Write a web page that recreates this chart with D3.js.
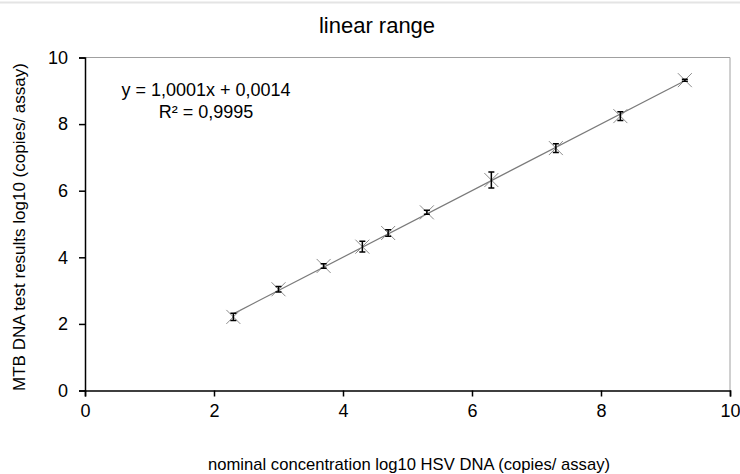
<!DOCTYPE html>
<html>
<head>
<meta charset="utf-8">
<script src="https://cdn.jsdelivr.net/npm/d3@7"></script>
<style>
  html, body { margin: 0; padding: 0; background: #fff; }
  svg { display: block; font-family: "Liberation Sans", Arial, sans-serif; }
</style>
</head>
<body>
<svg id="chart" width="740" height="474"></svg>
<script>
// ---- data ----
const nominal = [2.3, 3.0, 3.7, 4.3, 4.7, 5.3, 6.3, 7.3, 8.3, 9.3];
const measured = [2.21, 3.04, 3.74, 4.32, 4.73, 5.35, 6.32, 7.28, 8.24, 9.32];
const errors = [0.11, 0.08, 0.07, 0.16, 0.10, 0.06, 0.24, 0.13, 0.13, 0.03];
const xTicks = [0, 2, 4, 6, 8, 10];
const yTicks = [0, 2, 4, 6, 8, 10];
const slope = 1.0001, intercept = 0.0014;
const titleText = "linear range";
const xLabel = "nominal concentration log10 HSV DNA (copies/ assay)";
const yLabel = "MTB DNA test results log10 (copies/ assay)";
const eqLines = ["y = 1,0001x + 0,0014", "R\u00B2 = 0,9995"];

// ---- layout ----
const svg = d3.select("#chart");
const pLeft = 85, pRight = 730, pTop = 57.5, pBottom = 390.5;
const x = d3.scaleLinear().domain([0, 10]).range([pLeft, pRight]);
const y = d3.scaleLinear().domain([0, 10]).range([pBottom, pTop]);

// faint line at very top
svg.append("line").attr("x1", 0).attr("x2", 740).attr("y1", 2.5).attr("y2", 2.5)
  .attr("stroke", "#e4e4e4").attr("stroke-width", 2);

// plot frame (top & right)
svg.append("path")
  .attr("d", `M${pLeft},${pTop}H${pRight}V${pBottom}`)
  .attr("fill", "none").attr("stroke", "#a0a0a0").attr("stroke-width", 1);

// axes
const xAxis = svg.append("g").attr("transform", `translate(0,${pBottom})`)
  .call(d3.axisBottom(x).tickValues(xTicks).tickSize(6).tickPadding(8).tickFormat(d3.format("d")));
const yAxis = svg.append("g").attr("transform", `translate(${pLeft},0)`)
  .call(d3.axisLeft(y).tickValues(yTicks).tickSize(6).tickPadding(11).tickFormat(d3.format("d")));
[xAxis, yAxis].forEach(g => {
  g.select(".domain").attr("stroke", "#000").attr("stroke-width", 1.5);
  g.selectAll(".tick line").attr("stroke", "#000").attr("stroke-width", 1.5);
  g.selectAll(".tick text").attr("fill", "#000").style("font-size", "18px")
    .style("font-family", "'Liberation Sans', Arial, sans-serif");
});

// trendline
const x0 = nominal[0], x1 = nominal[nominal.length - 1];
svg.append("line")
  .attr("x1", x(x0)).attr("y1", y(slope * x0 + intercept))
  .attr("x2", x(x1)).attr("y2", y(slope * x1 + intercept))
  .attr("stroke", "#7a7a7a").attr("stroke-width", 1.2);

// markers (X)
const pts = nominal.map((v, i) => ({ x: v, y: measured[i], e: errors[i] }));
const ms = 7;
const mk = svg.append("g");
pts.forEach(p => {
  const cx = x(p.x), cy = y(p.y);
  mk.append("path")
    .attr("d", `M${cx - ms},${cy - ms}L${cx + ms},${cy + ms}M${cx - ms},${cy + ms}L${cx + ms},${cy - ms}`)
    .attr("stroke", "#8c8c8c").attr("stroke-width", 1).attr("fill", "none");
});

// error bars
const eb = svg.append("g");
const cap = 3;
pts.forEach(p => {
  const cx = x(p.x), yt = y(p.y + p.e), yb = y(p.y - p.e);
  eb.append("path")
    .attr("d", `M${cx},${yt}V${yb}M${cx - cap},${yt}H${cx + cap}M${cx - cap},${yb}H${cx + cap}`)
    .attr("stroke", "#000").attr("stroke-width", 1.5).attr("fill", "none");
});

// title
svg.append("text").attr("x", 377).attr("y", 33).attr("text-anchor", "middle")
  .style("font-size", "22px").attr("fill", "#000").text(titleText);

// equation
svg.append("text").attr("x", 206).attr("y", 96).attr("text-anchor", "middle")
  .style("font-size", "18px").attr("fill", "#000").text(eqLines[0]);
svg.append("text").attr("x", 206).attr("y", 118).attr("text-anchor", "middle")
  .style("font-size", "18px").attr("fill", "#000").text(eqLines[1]);

// axis labels
svg.append("text").attr("x", 409).attr("y", 470).attr("text-anchor", "middle")
  .attr("textLength", 402).attr("lengthAdjust", "spacingAndGlyphs")
  .style("font-size", "17px").attr("fill", "#000").text(xLabel);
svg.append("text").attr("transform", "translate(25,227) rotate(-90)").attr("text-anchor", "middle")
  .style("font-size", "17px").attr("fill", "#000").text(yLabel);
</script>
</body>
</html>
